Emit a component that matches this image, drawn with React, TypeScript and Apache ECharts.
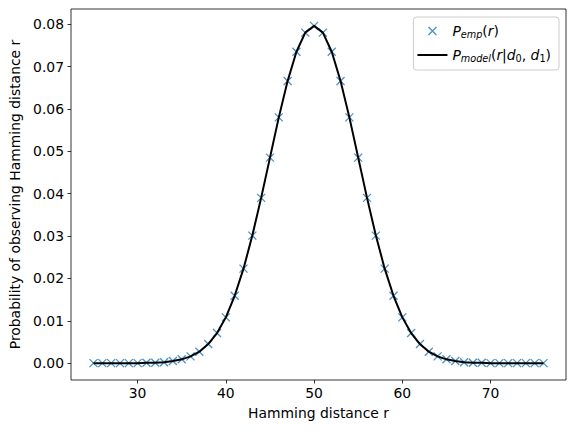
import React, { useEffect, useRef } from "react";
import * as echarts from "echarts";

const distances: number[] = [
  25, 26, 27, 28, 29, 30, 31, 32, 33, 34, 35, 36, 37, 38, 39, 40, 41, 42, 43, 44, 45, 46, 47, 48, 49, 50,
  51, 52, 53, 54, 55, 56, 57, 58, 59, 60, 61, 62, 63, 64, 65, 66, 67, 68, 69, 70, 71, 72, 73, 74, 75, 76,
];

const pEmp: number[] = [
  0.0, 0.0, 0.0, 0.0, 0.0, 0.0, 0.0001, 0.0001, 0.0002, 0.0005, 0.0009, 0.0016, 0.0027, 0.0045, 0.0071,
  0.0108, 0.0159, 0.0223, 0.0301, 0.039, 0.0485, 0.058, 0.0666, 0.0735, 0.078, 0.0796, 0.078, 0.0735,
  0.0666, 0.058, 0.0485, 0.039, 0.0301, 0.0223, 0.0159, 0.0108, 0.0071, 0.0045, 0.0027, 0.0016, 0.0009,
  0.0005, 0.0002, 0.0001, 0.0001, 0.0, 0.0, 0.0, 0.0, 0.0, 0.0, 0.0,
];

const pModel: number[] = [
  0.0, 0.0, 0.0, 0.0, 0.0, 0.0, 0.0001, 0.0001, 0.0002, 0.0005, 0.0009, 0.0016, 0.0027, 0.0045, 0.0071,
  0.0108, 0.0159, 0.0223, 0.0301, 0.039, 0.0485, 0.058, 0.0666, 0.0735, 0.078, 0.0796, 0.078, 0.0735,
  0.0666, 0.058, 0.0485, 0.039, 0.0301, 0.0223, 0.0159, 0.0108, 0.0071, 0.0045, 0.0027, 0.0016, 0.0009,
  0.0005, 0.0002, 0.0001, 0.0001, 0.0, 0.0, 0.0, 0.0, 0.0, 0.0, 0.0,
];

const xTicks: number[] = [30, 40, 50, 60, 70];
const yTicks: number[] = [0, 0.01, 0.02, 0.03, 0.04, 0.05, 0.06, 0.07, 0.08];

const FONT = "DejaVu Sans";
const BLUE = "#1f77b4";
const XMARK = "path://M0,0L10,10M10,0L0,10";
const LINEICON = "path://M0,0L30,0L30,2L0,2Z";

export default function App() {
  const ref = useRef<HTMLDivElement>(null);
  useEffect(() => {
    if (!ref.current) return;
    const chart = echarts.init(ref.current, null, { renderer: "svg" });
    const rich = {
      i: { fontFamily: FONT, fontStyle: "italic", fontSize: 13.9, color: "#000" },
      s: { fontFamily: FONT, fontStyle: "italic", fontSize: 9.7, color: "#000", verticalAlign: "bottom", padding: [6, 0, 0, 0] },
      n: { fontFamily: FONT, fontSize: 9.7, color: "#000", verticalAlign: "bottom", padding: [6, 0, 0, 0] },
      r: { fontFamily: FONT, fontSize: 13.9, color: "#000" },
    };
    chart.setOption({
      animation: false,
      backgroundColor: "#fff",
      grid: {
        left: 71,
        right: 10,
        top: 9,
        bottom: 52,
        show: true,
        borderColor: "#000",
        borderWidth: 0.8,
        backgroundColor: "transparent",
      },
      xAxis: {
        type: "value",
        min: 22.45,
        max: 78.55,
        name: "Hamming distance r",
        nameLocation: "middle",
        nameGap: 26,
        nameTextStyle: { fontFamily: FONT, fontSize: 13.9, color: "#000" },
        axisLine: { show: false, onZero: false },
        splitLine: { show: false },
        axisTick: {
          show: true,
          inside: false,
          length: 3.5,
          lineStyle: { color: "#000", width: 0.8 },
          customValues: xTicks,
        },
        axisLabel: {
          margin: 6,
          fontFamily: FONT,
          fontSize: 13.9,
          color: "#000",
          customValues: xTicks,
          formatter: (v: number) => String(v),
        },
      },
      yAxis: {
        type: "value",
        min: -0.00398,
        max: 0.08358,
        name: "Probability of observing Hamming distance r",
        nameLocation: "middle",
        nameGap: 48,
        nameTextStyle: { fontFamily: FONT, fontSize: 13.9, color: "#000" },
        axisLine: { show: false, onZero: false },
        splitLine: { show: false },
        axisTick: {
          show: true,
          inside: false,
          length: 3.5,
          lineStyle: { color: "#000", width: 0.8 },
          customValues: yTicks,
        },
        axisLabel: {
          margin: 7,
          fontFamily: FONT,
          fontSize: 13.9,
          color: "#000",
          customValues: yTicks,
          formatter: (v: number) => v.toFixed(2),
        },
      },
      legend: {
        orient: "vertical",
        right: 17,
        top: 17,
        padding: [7, 8, 7, 4],
        itemWidth: 30,
        itemHeight: 8,
        itemGap: 9,
        symbolKeepAspect: true,
        borderColor: "#cccccc",
        borderWidth: 1,
        borderRadius: 3,
        backgroundColor: "rgba(255,255,255,0.8)",
        textStyle: { fontFamily: FONT, fontSize: 13.9, color: "#000", rich },
        data: [
          {
            name: "emp",
            icon: XMARK,
            itemStyle: { color: "transparent", borderColor: BLUE, borderWidth: 1.4 },
          },
          {
            name: "model",
            icon: LINEICON,
            itemStyle: { color: "#000", borderWidth: 0 },
          },
        ],
        formatter: (name: string) =>
          name === "emp" ? "{i|P}{s|emp}{r|(}{i|r}{r|)}" : "{i|P}{s|model}{r|(}{i|r}{r||}{i|d}{n|0}{r|, }{i|d}{n|1}{r|)}",
      },
      series: [
        {
          name: "emp",
          type: "scatter",
          symbol: XMARK,
          symbolSize: 8,
          itemStyle: { color: "transparent", borderColor: BLUE, borderWidth: 1.3 },
          data: distances.map((d, i) => [d, pEmp[i]]),
        },
        {
          name: "model",
          type: "line",
          symbol: "none",
          showSymbol: false,
          lineStyle: { color: "#000", width: 2 },
          itemStyle: { color: "#000" },
          data: distances.map((d, i) => [d, pModel[i]]),
        },
      ],
    });
    return () => chart.dispose();
  }, []);
  return <div ref={ref} style={{ width: 576, height: 432, position: "absolute", left: 0, top: 0 }} />;
}
